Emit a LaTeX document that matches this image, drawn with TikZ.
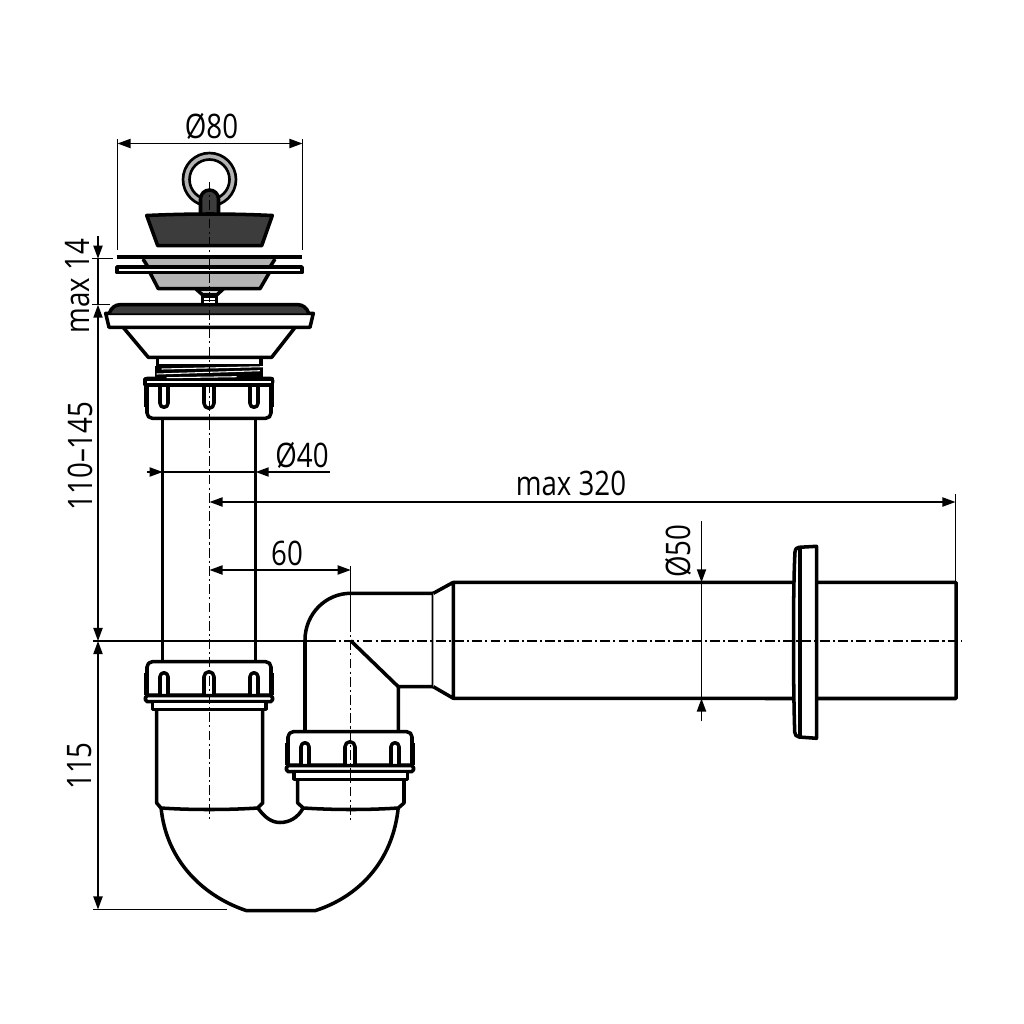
\documentclass[tikz,border=0pt]{standalone}
\usepackage{fontspec}
\setmainfont[FakeStretch=0.82]{Open Sans}
\usetikzlibrary{arrows.meta}
\definecolor{plugdark}{HTML}{3C3C3C}
\definecolor{plategray}{HTML}{B4B4B4}
\tikzset{
  pipeline/.style={line width=1pt,line join=round},
  thinline/.style={line width=0.42pt,black},
  axisline/.style={line width=0.42pt,dash pattern=on 2.8pt off 0.9pt on 0.6pt off 0.9pt},
  dimline/.style={thinline,{Triangle[length=3.7pt,width=2.6pt]}-{Triangle[length=3.7pt,width=2.6pt]}},
  tipend/.style={thinline,-{Triangle[length=3.7pt,width=2.6pt]}},
  dimtext/.style={font=\fontsize{9.6}{11}\selectfont,inner sep=0pt},
  unionnut/.pic={
    \draw[pipeline,fill=white,rounded corners=1.5pt] (-62,34) -- (-62,0) -- (62,0) -- (62,34);
    \draw[pipeline,fill=white,rounded corners=0.5pt] (-63.5,34) rectangle (63.5,40);
    \fill (-65,11) rectangle (-62,33);
    \fill (62,11) rectangle (65,33);
    \draw[pipeline] (-62,33.5) -- (-49,33.5) -- (-49,15) arc[start angle=180,end angle=360,x radius=4,y radius=4] -- (-41,33.5)
      -- (-5,33.5) -- (-5,15) arc[start angle=180,end angle=360,radius=5] -- (5,33.5)
      -- (41,33.5) -- (41,15) arc[start angle=180,end angle=360,x radius=4,y radius=4] -- (49,33.5) -- (62,33.5);
  }
}
\begin{document}
\begin{tikzpicture}[x=0.01cm,y=-0.01cm]
  \useasboundingbox (0,0) rectangle (1024,1024);
  \coordinate (ringc) at (209.5,179.5);
  % pipes
  \draw[pipeline,fill=white] (162.7,418) -- (162.7,662) (255.7,418) -- (255.7,662);
  \draw[pipeline,fill=white] (161,807) .. controls (166,862) and (205,897) .. (246.7,910.7)
    -- (315,910.7) .. controls (358,897) and (393,862) .. (398.3,807);
  \draw[pipeline] (257.7,807.7) .. controls (265,818) and (272,822.5) .. (280,822.5)
    .. controls (289,822.5) and (298,818) .. (303.3,807.7);
  \draw[pipeline,fill=white,line join=round] (156.7,709) -- (156.7,803) -- (161,808)
    .. controls (190,810) and (228,810) .. (257.7,808) -- (262.7,803) -- (262.7,709) -- cycle;
  \draw[pipeline,fill=white] (297.7,779) -- (297.7,803) -- (303.3,808)
    .. controls (335,810) and (368,810) .. (398.3,808) -- (404,803) -- (404,779) -- cycle;
  \draw[pipeline,fill=white] (305,732) -- (305,640) arc[start angle=180,end angle=270,x radius=45.7,y radius=46.7]
    -- (433.3,593.3) -- (433.3,686.7) -- (398.3,686.7) -- (398.3,732);
  \draw[pipeline] (350.7,640.7) -- (398.3,686.7);
  \draw[pipeline,fill=white] (433.3,593.3) -- (453.3,582.3) -- (453.3,698.3) -- (433.3,686.7);
  \draw[pipeline] (453.3,582.3) -- (793,582.3) (817,582.3) -- (956,582.3) -- (956,698.5) -- (817,698.5) (793,698.5) -- (453.3,698.3);
  \draw[pipeline,fill=white] (793.5,640) .. controls (793.5,600) and (794,570) .. (795,552)
    .. controls (795.5,548.5) and (797,547.5) .. (799,547.3) -- (816.5,546.3) -- (816.5,738.3)
    -- (799,737) .. controls (796,736.5) and (795,735) .. (794.7,732) .. controls (794,710) and (793.5,680) .. (793.5,640);
  \draw[pipeline] (800,547.3) -- (800,737);
  % nuts
  \pic at (209,661.7) {unionnut};
  \pic at (350,731.7) {unionnut};
  \pic[yscale=-1] at (209,418.3) {unionnut};
  \draw[pipeline,fill=white] (152.7,701.7) rectangle (266,709.3);
  \draw[pipeline,fill=white] (294,771.7) rectangle (407.7,779.3);
  \draw[pipeline,fill=white] (145,379) rectangle (272.7,385);
  % strainer
  \draw[pipeline,fill=white] (157.7,357.3) rectangle (261,366);
  \fill (155,366) rectangle (263.3,379.5);
  \draw[white,line width=0.3pt] (161.7,369) -- (263.3,366.7) (156.7,374) -- (260,370.7) (166.7,377.7) -- (236.7,376.7);
  \draw[pipeline,fill=white] (123.3,327.5) -- (148.3,357.3) -- (271.7,357.3) -- (295,327.5);
  \draw[pipeline,fill=white] (105.7,313.3) -- (313.3,313.3) -- (310,327.3) -- (109,327.3) -- cycle;
  \draw[pipeline,fill=plugdark,rounded corners=2.2pt] (109.5,313.3) -- (112,304.7) -- (306,304.7) -- (308.5,313.3);
  \draw[pipeline,fill=white] (202.7,294) rectangle (216.7,304.7);
  \draw[line width=0.5pt] (202.7,297.5) -- (216.7,297.5) (202.7,300.5) -- (216.7,300.5);
  \draw[pipeline,fill=plategray!60] (196,289) -- (223.3,289) -- (216.7,295) -- (202.7,295) -- cycle;
  \draw[pipeline,fill=plategray] (150,272.7) -- (158.3,288.7) -- (260,288.7) -- (269.3,272.7);
  \draw[pipeline,fill=plategray] (143,259) -- (148,267) -- (270,267) -- (275,259);
  \draw[pipeline,fill=white] (117,267) rectangle (302,272.7);
  \draw[line width=1.15pt] (116.7,257.3) -- (302.3,257.3);
  % plug and ring
  \draw[line width=0.75pt,fill=plategray,even odd rule] (ringc) circle[radius=26.5] (ringc) circle[radius=20];
  \draw[pipeline,fill=plugdark] (200.5,214) -- (200.5,199) arc[start angle=180,end angle=360,radius=9] -- (218.5,214);
  \draw[pipeline,fill=plugdark] (146.7,215.5) .. controls (190,213.5) and (230,213.5) .. (272.3,215.5)
    -- (261.7,245.7) -- (157.7,245.7) -- cycle;
  % axes
  \draw[axisline] (209.5,182) -- (209.5,820);
  \draw[axisline] (350.7,622) -- (350.7,820);
  \draw[axisline] (326,641) -- (962,641);
  \draw[thinline] (93,641) -- (326,641);
  \draw[thinline] (350.7,566) -- (350.7,622);
  % dimensions
  \begin{scope}
    \coordinate (dleft) at (117.5,143.5);
    \coordinate (dright) at (302.5,143.5);
    \draw[thinline] (117.5,139) -- (117.5,250) (302.5,139) -- (302.5,250);
    \draw[dimline] (dleft) -- (dright);
    \node[dimtext] (sizea) at (211.5,126) {Ø80};
    \coordinate (maxa) at (98,236);
    \coordinate (maxb) at (98,258.7);
    \coordinate (maxc) at (98,304.7);
    \coordinate (axisa) at (98,641);
    \coordinate (axisb) at (98,909.5);
    \draw[thinline] (92,258.7) -- (113,258.7) (92,304.7) -- (110,304.7);
    \draw[tipend] (maxa) -- (maxb);
    \draw[thinline] (maxb) -- (maxc);
    \draw[dimline] (maxc) -- (axisa);
    \draw[dimline] (axisa) -- (axisb);
    \draw[thinline] (93,909.5) -- (227,909.5);
    \node[dimtext,rotate=90] (sizeb) at (78,286) {max 14};
    \node[dimtext,rotate=90] (sizec) at (80,456) {110–145};
    \node[dimtext,rotate=90] (sized) at (80,766) {115};
    \coordinate (pipea) at (147,472);
    \coordinate (pipeb) at (162.7,472);
    \coordinate (pipec) at (255.7,472);
    \coordinate (piped) at (330,472);
    \draw[tipend] (pipea) -- (pipeb);
    \draw[thinline] (pipeb) -- (pipec);
    \draw[tipend] (piped) -- (pipec);
    \node[dimtext] (sizee) at (302,455) {Ø40};
    \coordinate (longa) at (209.5,502);
    \coordinate (longb) at (955.5,502);
    \draw[dimline] (longa) -- (longb);
    \draw[thinline] (955.5,494) -- (955.5,582);
    \node[dimtext] (sizef) at (571,483) {max 320};
    \coordinate (traba) at (209.5,570);
    \coordinate (trabb) at (350.7,570);
    \draw[dimline] (traba) -- (trabb);
    \node[dimtext] (sizeg) at (287,553) {60};
    \coordinate (boreb) at (701.5,521);
    \coordinate (borec) at (701.5,582.3);
    \coordinate (bored) at (701.5,698.5);
    \coordinate (boree) at (701.5,721);
    \draw[tipend] (boreb) -- (borec);
    \draw[thinline] (borec) -- (bored);
    \draw[tipend] (boree) -- (bored);
    \node[dimtext,rotate=90] (sizeh) at (678,551) {Ø50};
  \end{scope}
\end{tikzpicture}
\end{document}
